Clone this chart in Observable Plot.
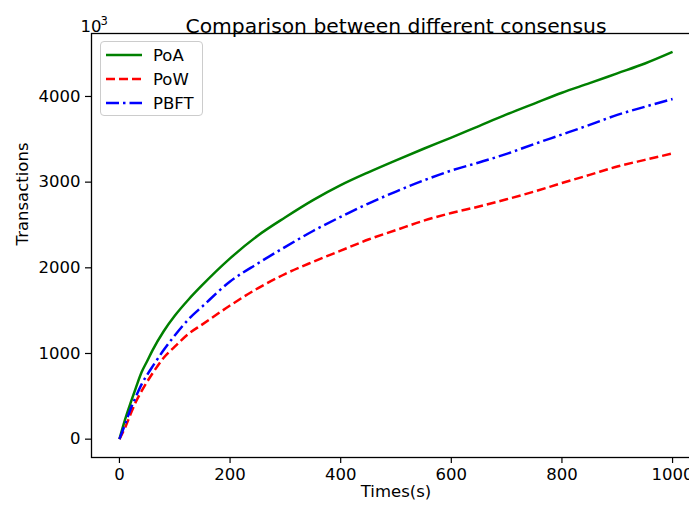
<!DOCTYPE html>
<html>
<head>
<meta charset="utf-8">
<script src="https://cdn.jsdelivr.net/npm/d3@7"></script>
<script src="https://cdn.jsdelivr.net/npm/@observablehq/plot@0.6"></script>
<style>
html, body { margin: 0; padding: 0; overflow: hidden; background: #fff; }
#wrap { position: relative; width: 689px; height: 506px; overflow: hidden; font-family: "DejaVu Sans", sans-serif; }
#wrap > svg { max-width: none !important; display: block; }
#legend { position: absolute; left: 100px; top: 41px; width: 101px; height: 73px; border: 1px solid #cccccc; border-radius: 4px; background: rgba(255,255,255,0.8); }
.item { position: absolute; left: 5px; height: 20px; display: flex; align-items: center; font-size: 16.5px; color: #000; }
.item svg { margin-right: 11px; }
</style>
</head>
<body>
<div id="wrap"></div>
<script>
const times = [0, 10, 20, 30, 40, 50, 60, 80, 100, 125, 150, 200, 250, 300, 350, 400, 450, 500, 550, 600, 650, 700, 750, 800, 850, 900, 950, 1000];
const poa  = [0, 225, 420, 605, 780, 910, 1040, 1260, 1440, 1630, 1800, 2110, 2375, 2590, 2790, 2965, 3115, 3255, 3390, 3520, 3655, 3790, 3917, 4043, 4155, 4270, 4385, 4520];
const pow  = [0, 130, 290, 440, 560, 670, 770, 950, 1080, 1230, 1340, 1560, 1760, 1930, 2070, 2200, 2330, 2440, 2550, 2640, 2715, 2800, 2890, 2990, 3085, 3182, 3260, 3335];
const pbft = [0, 170, 350, 500, 640, 750, 850, 1040, 1210, 1400, 1550, 1840, 2050, 2245, 2430, 2595, 2750, 2890, 3020, 3135, 3230, 3330, 3445, 3556, 3668, 3785, 3880, 3970];
const seriesNames = ["PoA", "PoW", "PBFT"];
const seriesColors = ["#008000", "#ff0000", "#0000ff"];
const seriesDash = [null, "9,4", "13,4,2.5,4"];
const xTicks = [0, 200, 400, 600, 800, 1000];
const yTicks = [0, 1000, 2000, 3000, 4000];
const titleText = "Comparison between different consensus";
const xLabel = "Times(s)";
const yLabel = "Transactions";
const multBase = "10";
const multExp = "3";

const seriesValues = [poa, pow, pbft];
const rows = seriesValues.map(vals => times.map((t, i) => ({t, v: vals[i]})));

const font = "DejaVu Sans, sans-serif";
const chart = Plot.plot({
  width: 710,
  height: 506,
  marginLeft: 91,
  marginRight: 10,
  marginTop: 33,
  marginBottom: 49,
  style: {fontFamily: font, fontSize: "16.5px", background: "#fff", color: "#000", maxWidth: "none"},
  x: {domain: [-50.5, 1050.5]},
  y: {domain: [-214, 4735]},
  marks: [
    ...rows.map((data, k) => Plot.line(data, {
      x: "t", y: "v", stroke: seriesColors[k], strokeWidth: 2.5, curve: "monotone-x",
      strokeDasharray: seriesDash[k] || undefined, strokeLinecap: "butt", strokeLinejoin: "round"
    })),
    Plot.axisX({ticks: xTicks, tickSize: 6, tickPadding: 5, label: null, fontSize: 16.5, tickFormat: d => String(d), stroke: "#000", strokeWidth: 1.2}),
    Plot.axisY({ticks: yTicks, tickSize: 6, tickPadding: 5, label: null, fontSize: 16.5, tickFormat: d => String(d), stroke: "#000", strokeWidth: 1.2}),
    Plot.frame({stroke: "#000", strokeWidth: 1.3}),
    Plot.text([titleText], {frameAnchor: "top", dy: -15, fontSize: 20.3, fill: "#000"}),
    Plot.text([multBase], {frameAnchor: "top-left", textAnchor: "start", dx: -11, dy: -13, fontSize: 16.5, fill: "#000"}),
    Plot.text([multExp], {frameAnchor: "top-left", textAnchor: "start", dx: 9, dy: -17, fontSize: 11.5, fill: "#000"}),
    Plot.text([xLabel], {frameAnchor: "bottom", dy: 39, fontSize: 16.5, fill: "#000"}),
    Plot.text([yLabel], {frameAnchor: "left", dx: -69, rotate: -90, fontSize: 16.5, fill: "#000"})
  ]
});
const wrap = document.getElementById("wrap");
wrap.appendChild(chart);

const legend = document.createElement("div");
legend.id = "legend";
seriesNames.forEach((name, k) => {
  const item = document.createElement("div");
  item.className = "item";
  item.style.top = (3 + k * 24) + "px";
  const dash = seriesDash[k] ? ` stroke-dasharray="${seriesDash[k]}"` : "";
  item.innerHTML = `<svg width="36" height="6"><line x1="0" y1="3" x2="36" y2="3" stroke="${seriesColors[k]}" stroke-width="2.5"${dash}/></svg><span>${name}</span>`;
  legend.appendChild(item);
});
wrap.appendChild(legend);
</script>
</body>
</html>
